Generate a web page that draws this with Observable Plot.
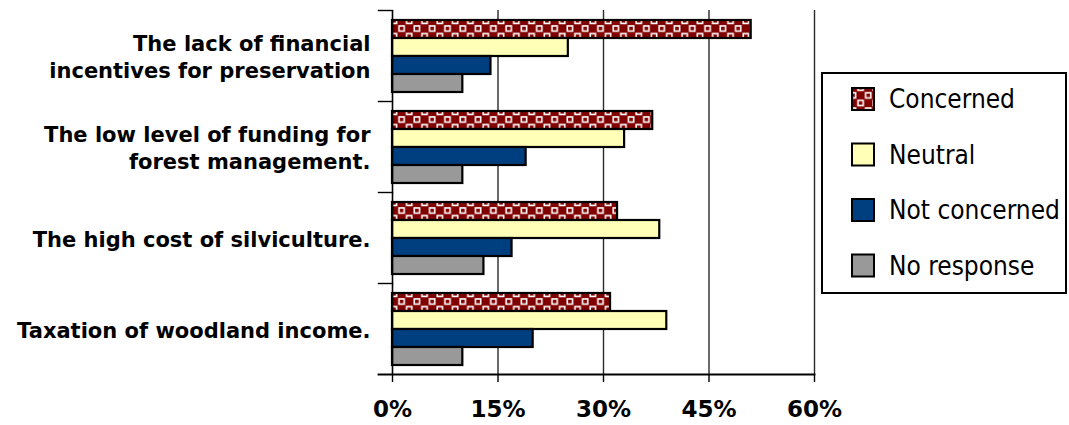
<!DOCTYPE html>
<html>
<head>
<meta charset="utf-8">
<script src="https://cdn.jsdelivr.net/npm/d3@7"></script>
<script src="https://cdn.jsdelivr.net/npm/@observablehq/plot@0.6"></script>
<style>
  html, body { margin: 0; padding: 0; background: #fff; }
  #chart svg { display: block; }
</style>
</head>
<body>
<div id="chart"></div>
<script>
// ---- data ----
const categories = [
  "The lack of financial incentives for preservation",
  "The low level of funding for forest management.",
  "The high cost of silviculture.",
  "Taxation of woodland income."
];
const categoryLabels = [
  "The lack of financial\nincentives for preservation",
  "The low level of funding for\nforest management.",
  "The high cost of silviculture.",
  "Taxation of woodland income."
];
const series = ["Concerned", "Neutral", "Not concerned", "No response"];
const concerned    = [51, 37, 32, 31];
const neutral      = [25, 33, 38, 39];
const notConcerned = [14, 19, 17, 20];
const noResponse   = [10, 10, 13, 10];
const xTicks = [0, 15, 30, 45, 60];

const seriesValues = [concerned, neutral, notConcerned, noResponse];
const colors = ["url(#concernedPattern)", "#ffffb8", "#003f7f", "#999999"];

const data = [];
categories.forEach((c, i) => {
  series.forEach((s, j) => {
    data.push({category: c, series: s, value: seriesValues[j][i]});
  });
});

// ---- layout ----
const W = 1069, H = 425;
const ML = 392, MR = 255, MT = 8, MB = 50;
const plotWidth = W - ML - MR;
const labelOf = new Map(categories.map((c, i) => [c, categoryLabels[i]]));

const chart = Plot.plot({
  width: W,
  height: H,
  marginLeft: ML,
  marginRight: MR,
  marginTop: MT,
  marginBottom: MB,
  style: {fontFamily: "'DejaVu Sans', Verdana, sans-serif", color: "#000", background: "#fff"},
  x: {domain: [0, 60]},
  y: {domain: series, paddingInner: 0, paddingOuter: 0.48, axis: null},
  fy: {domain: categories, padding: 0},
  color: {domain: series, range: colors},
  marks: [
    Plot.ruleX([15, 30, 45, 60], {stroke: "#2a2a2a", strokeWidth: 1.4}),
    Plot.barX(data, {
      x: "value", y: "series", fy: "category", fill: "series",
      stroke: "#000", strokeWidth: 2.2
    }),
    Plot.ruleX([0], {stroke: "#000", strokeWidth: 1.6}),
    Plot.frame({anchor: "top", insetLeft: -14, insetRight: plotWidth, stroke: "#000", strokeWidth: 1.4}),
    Plot.frame({anchor: "bottom", facetAnchor: "bottom", insetLeft: -14, stroke: "#000", strokeWidth: 1.8}),
    Plot.axisFy({
      anchor: "left", tickSize: 0, tickPadding: 22, label: null,
      tickFormat: d => labelOf.get(d),
      fontSize: 21, fontWeight: "bold", lineHeight: 1.3
    }),
    Plot.axisX({
      anchor: "bottom", ticks: xTicks, tickFormat: d => d + "%",
      tickSize: 8, tickPadding: 18, label: null,
      fontSize: 23, fontWeight: "bold", strokeWidth: 1.4
    })
  ]
});

// pattern for "Concerned"
const svg = d3.select(chart);
const defs = svg.insert("defs", ":first-child");
const T = 15.3;
const pat = defs.append("pattern")
  .attr("id", "concernedPattern")
  .attr("patternUnits", "userSpaceOnUse")
  .attr("width", T).attr("height", T);
pat.append("rect").attr("width", T).attr("height", T).attr("fill", "#800000");
[[1.2, 8.6], [8.85, 0.95]].forEach(([x, y]) => {
  pat.append("rect").attr("x", x).attr("y", y).attr("width", 5.2).attr("height", 5.2)
    .attr("fill", "none").attr("stroke", "#fff").attr("stroke-width", 1.6);
});

// legend
const lg = svg.append("g").attr("class", "legend").attr("text-anchor", "start");
lg.append("rect").attr("x", 822).attr("y", 73).attr("width", 244).attr("height", 220)
  .attr("fill", "#fff").attr("stroke", "#000").attr("stroke-width", 2);
series.forEach((s, j) => {
  const cy = 99 + j * 55.5;
  lg.append("rect").attr("x", 852).attr("y", cy - 11).attr("width", 22).attr("height", 22)
    .attr("fill", colors[j]).attr("stroke", "#000").attr("stroke-width", 2);
  lg.append("text").attr("x", 889).attr("y", cy).attr("dy", "0.35em")
    .attr("text-anchor", "start")
    .attr("font-family", "'DejaVu Sans Condensed', 'Liberation Sans', sans-serif")
    .attr("font-size", 26).attr("fill", "#000").text(s);
});

document.getElementById("chart").appendChild(chart);
</script>
</body>
</html>
